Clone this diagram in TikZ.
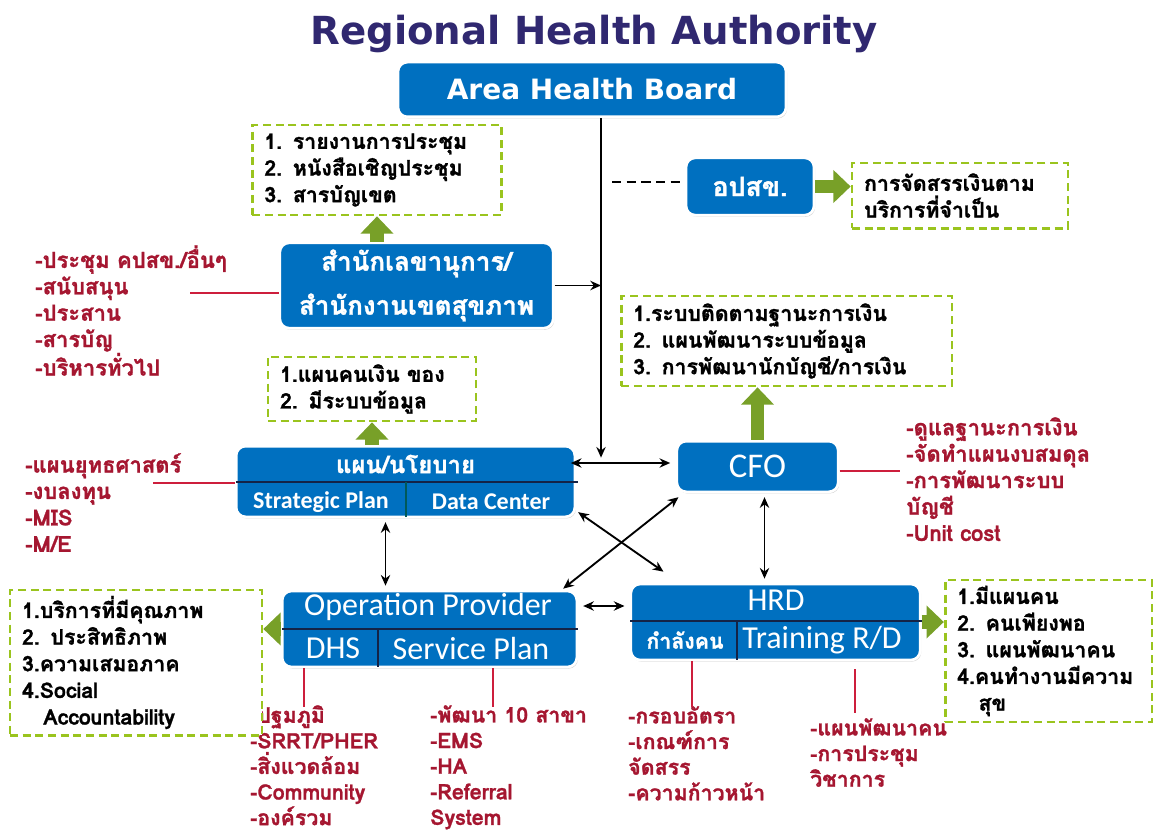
\documentclass[tikz,border=0pt]{standalone}
\usepackage{fontspec}
\setmainfont{Carlito}
\newfontfamily\thaifont[Script=Thai, BoldFeatures={FakeBold=1.2}]{Loma}
\newfontfamily\headfont{DejaVu Sans}
\usetikzlibrary{arrows.meta,shadows}

\definecolor{boxblue}{RGB}{0,112,192}
\definecolor{titleblue}{RGB}{48,40,112}
\definecolor{dashgreen}{RGB}{154,196,30}
\definecolor{arrowgreen}{RGB}{120,160,40}
\definecolor{notered}{RGB}{165,22,48}
\definecolor{linered}{RGB}{205,30,60}
\definecolor{divline}{RGB}{20,35,70}

\tikzset{
  bluebox/.style={rectangle, rounded corners=7pt, fill=boxblue, draw=white, line width=2pt,
    drop shadow={shadow xshift=0.8pt, shadow yshift=-1.2pt, opacity=0.35}, text=white, inner sep=0pt},
  greenbox/.style={rectangle, draw=dashgreen, fill=white, line width=2pt, dash pattern=on 6pt off 3.5pt,
    align=left, inner xsep=9pt, font=\thaifont\bfseries\fontsize{16}{20}\selectfont},
  note/.style={anchor=north west, inner sep=0pt, align=left, text=notered,
    font=\thaifont\bfseries\fontsize{16.5}{19.8}\selectfont},
  lownote/.style={note, font=\thaifont\bfseries\fontsize{16}{19.2}\selectfont},
  link/.style={line width=1.4pt, {Stealth[length=8pt,width=7pt]}-{Stealth[length=8pt,width=7pt]}},
  tolink/.style={line width=1.4pt, -{Stealth[length=8pt,width=7pt]}},
  redline/.style={draw=linered, line width=1.2pt},
  bigarrow/.style={draw=arrowgreen, line width=10pt, -{Triangle[length=13pt,width=24pt]}},
  divider/.style={draw=divline, line width=1.2pt},
  boxtext/.style={text=white, inner sep=0pt},
}

\begin{document}
\begin{tikzpicture}[x=0.75pt, y=-0.75pt]
\useasboundingbox (0,0) rectangle (1155,838);

% title
\node[font=\headfont\bfseries\fontsize{29}{32}\selectfont, text=titleblue] (title) at (594,34) {Regional Health Authority};

% red notes (drawn first, the white boxes go over them)
\node[note] (secnote) at (35,245) {-ประชุม คปสข./อื่นๆ\\-สนับสนุน\\-ประสาน\\-สารบัญ\\-บริหารทั่วไป};
\node[note] (plannote) at (25,453) {-แผนยุทธศาสตร์\\-งบลงทุน\\-MIS\\-M/E};
\node[note] (cfonote) at (906,417) {-ดูแลฐานะการเงิน\\-จัดทำแผนงบสมดุล\\-การพัฒนาระบบ\\บัญชี\\-Unit cost};
\node[lownote] (dhsnote) at (250,705) {\phantom{-}ปฐมภูมิ\\-SRRT/PHER\\-สิ่งแวดล้อม\\-Community\\-องค์รวม};
\node[lownote] (spnote) at (430,705) {-พัฒนา 10 สาขา\\-EMS\\-HA\\-Referral\\System};
\node[lownote] (mannote) at (628,706) {-กรอบอัตรา\\-เกณฑ์การ\\จัดสรร\\-ความก้าวหน้า};
\node[lownote] (trainnote) at (810,718) {-แผนพัฒนาคน\\-การประชุม\\วิชาการ};

% blue boxes
\node[bluebox, minimum width=291pt, minimum height=41pt, font=\headfont\bfseries\fontsize{21}{24}\selectfont] (ahb) at (592,89.5) {Area Health Board};
\node[bluebox, minimum width=96pt, minimum height=43pt, font=\thaifont\bfseries\fontsize{20}{22}\selectfont] (opsk) at (750,186.5) {อปสข.};
\node[bluebox, minimum width=205pt, minimum height=64pt, align=center, font=\thaifont\bfseries\fontsize{19.5}{33}\selectfont] (sec) at (416.5,285.5) {สำนักเลขานุการ/\\สำนักงานเขตสุขภาพ};
\node[bluebox, minimum width=254pt, minimum height=53pt] (plan) at (405.5,481.5) {};
\node[bluebox, minimum width=121pt, minimum height=38pt, font=\fontsize{26}{28}\selectfont] (cfo) at (757.5,466.5) {CFO};
\node[bluebox, minimum width=221pt, minimum height=57pt] (oper) at (429.5,629) {};
\node[bluebox, minimum width=217pt, minimum height=57pt] (hrd) at (775.5,622) {};

% split boxes: headers, dividers, cells
\node[boxtext, font=\thaifont\bfseries\fontsize{18}{20}\selectfont] (plantop) at (405.5,464) {แผน/นโยบาย};
\node[boxtext, font=\bfseries\fontsize{18}{20}\selectfont] (strat) at (321,502) {Strategic Plan};
\node[boxtext, font=\bfseries\fontsize{18}{20}\selectfont] (datac) at (491,502) {Data Center};
\draw[divider] (236,482) -- (578,482);
\draw[teal!70!black, line width=1.2pt] (406,482) -- (406,517);

\node[boxtext, font=\fontsize{24}{26}\selectfont] (optop) at (428,607) {Operation Provider};
\node[boxtext, font=\fontsize{24}{26}\selectfont] (dhs) at (333,648) {DHS};
\node[boxtext, font=\fontsize{24}{26}\selectfont] (splan) at (471,648) {Service Plan};
\draw[divider] (282,629) -- (578,629);
\draw[divider] (378,629) -- (378,667);

\node[boxtext, font=\fontsize{24}{26}\selectfont] (hrdtop) at (776,600) {HRD};
\node[boxtext, font=\thaifont\bfseries\fontsize{16}{18}\selectfont] (man) at (685,640) {กำลังคน};
\node[boxtext, font=\fontsize{24}{26}\selectfont] (train) at (822,640) {Training R/D};
\draw[divider] (630,621) -- (922,621);
\draw[divider] (737,621) -- (737,660);

% green outcome boxes
\node[greenbox, text width=169pt, minimum height=67.5pt] (gmeet) at (377,170) {1. รายงานการประชุม\\2. หนังสือเชิญประชุม\\3. สารบัญเขต};
\node[greenbox, text width=144pt, minimum height=49pt] (gfund) at (960,195.5) {การจัดสรรเงินตาม\\บริการที่จำเป็น};
\node[greenbox, text width=230pt, minimum height=67.5pt] (gfin) at (786.5,341) {1.ระบบติดตามฐานะการเงิน\\2. แผนพัฒนาระบบข้อมูล\\3. การพัฒนานักบัญชี/การเงิน};
\node[greenbox, text width=138pt, minimum height=48pt] (gplan) at (372,389) {1.แผนคนเงิน ของ\\2. มีระบบข้อมูล};
\node[greenbox, text width=171pt, minimum height=109pt] (gserv) at (136,662.5) {1.บริการที่มีคุณภาพ\\2. ประสิทธิภาพ\\3.ความเสมอภาค\\4.Social\\\hspace*{1em}Accountability};
\node[greenbox, text width=137pt, minimum height=106.5pt] (ghrd) at (1048.5,651) {1.มีแผนคน\\2. คนเพียงพอ\\3. แผนพัฒนาคน\\4.คนทำงานมีความ\\\hspace*{1em}สุข};

% main trunk
\coordinate (hub) at (601,463);
\coordinate (dashfrom) at (612,182);
\draw[tolink] (ahb.south -| hub) -- ([yshift=4pt]hub);
\draw[line width=1.6pt, dash pattern=on 7pt off 4pt] (dashfrom) -- (dashfrom -| opsk.west);
\draw[tolink] (sec.east) -- (sec.east -| hub);
\draw[link] ([xshift=-4pt]plan.east |- hub) -- ([xshift=-4pt]cfo.west |- hub);

% links between units
\draw[link] ([shift={(-20,4)}]plan.south) -- ([shift={(-20,-4)}]plan.south |- oper.north);
\draw[link] ([shift={(7,4)}]cfo.south) -- ([shift={(7,-4)}]cfo.south |- hrd.north);
\draw[link] ([shift={(2,-6)}]plan.south east) -- ([shift={(34,-11)}]hrd.north west);
\draw[link] ([shift={(3,4)}]cfo.south west) -- ([shift={(-15,-1)}]oper.north east);
\draw[link] ([shift={(5,-23)}]oper.east) -- ([shift={(-5,-23)}]oper.east -| hrd.west);

% green arrows to outcomes
\draw[bigarrow] (sec.north -| gmeet.south) -- (gmeet.south);
\draw[bigarrow] (plan.north -| gplan.south) -- (gplan.south);
\draw[bigarrow] (cfo.north) -- (cfo.north |- gfin.south);
\draw[bigarrow] (opsk.east) -- (opsk.east -| gfund.west);
\draw[bigarrow] (oper.west) -- (oper.west -| gserv.east);
\draw[bigarrow] (hrd.east) -- (hrd.east -| ghrd.west);

% red leader lines
\coordinate (secred) at (190,293);
\coordinate (planred) at (153,483);
\coordinate (cfored) at (900,471);
\draw[redline] (secred) -- (secred -| sec.west);
\draw[redline] (planred) -- (planred -| plan.west);
\draw[redline] (cfored -| cfo.east) -- (cfored);
\draw[redline] (oper.south -| 304,0) -- ++(0,39);
\draw[redline] (oper.south -| 493,0) -- ++(0,39);
\draw[redline] (hrd.south -| 692,0) -- ++(0,46);
\draw[redline] ([yshift=-6pt]hrd.south -| 855,0) -- ++(0,44);
\end{tikzpicture}
\end{document}
